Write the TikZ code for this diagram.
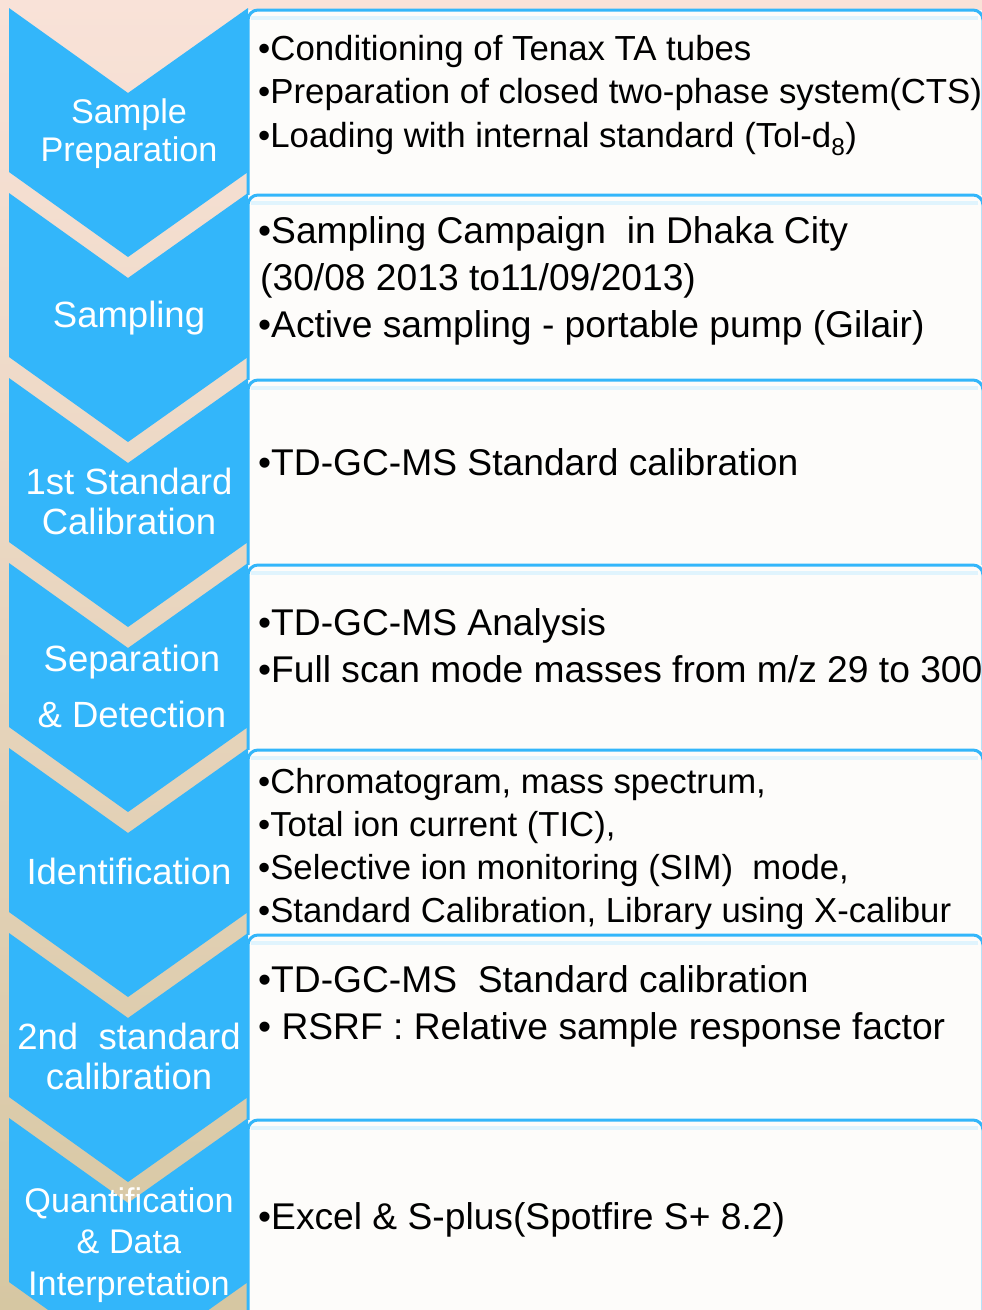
\documentclass[tikz,border=0pt]{standalone}
\usepackage{fontspec}
\setmainfont{Liberation Sans}

\definecolor{stepblue}{RGB}{51,182,250}
\definecolor{glowblue}{RGB}{224,244,253}
\definecolor{boxwhite}{RGB}{253,252,250}
\definecolor{peachtop}{RGB}{249,226,216}
\definecolor{peachmid}{RGB}{243,230,214}
\definecolor{tanbottom}{RGB}{214,199,162}

\begin{document}
\begin{tikzpicture}[x=1pt, y=-1pt,
    chevron/.style={fill=stepblue},
    steplabel/.style={text=white, align=center, inner sep=0pt},
    detail/.style={anchor=base west, inner sep=0pt, text=black},
    small/.style={font=\fontsize{34.8}{40}\selectfont},
    large/.style={font=\fontsize{37.2}{44}\selectfont}]

  \useasboundingbox (0,0) rectangle (982,1310);
  \clip (0,0) rectangle (982,1310);

  % background
  \shade[top color=peachtop, middle color=peachmid, bottom color=tanbottom]
    (0,0) rectangle (982,1310);

  % detail boxes
  \foreach \i in {0,...,6} {
    \pgfmathsetmacro\boxtop{10+185*\i}
    \fill[boxwhite] (248,\boxtop) rectangle (990,\boxtop+195);
    \draw[stepblue, line width=3pt, rounded corners=10pt]
      (248,\boxtop+195) -- (248,\boxtop) -- (983,\boxtop) -- (983,\boxtop+195);
    \draw[glowblue, line width=4pt] (251,\boxtop+8) -- (978,\boxtop+8);
  }

  % step chevrons
  \foreach \i in {0,...,6} {
    \pgfmathsetmacro\t{8+185*\i}
    \fill[chevron] (9,\t) -- (128,\t+85) -- (248,\t)
      -- (248,\t+164) -- (128,\t+249) -- (9,\t+164) -- cycle;
  }

  % step names
  \node[steplabel, font=\fontsize{34.2}{38}\selectfont] (prep) at (129,134)
    {Sample\\Preparation};
  \node[steplabel, font=\fontsize{36.5}{40}\selectfont] (sampling) at (129,318)
    {Sampling};
  \node[steplabel, font=\fontsize{36.5}{40}\selectfont] (calibfirst) at (129,501)
    {1st Standard\\Calibration};
  \node[steplabel, font=\fontsize{36.5}{56}\selectfont] (separation) at (132,686)
    {Separation\\\& Detection};
  \node[steplabel, font=\fontsize{36.5}{40}\selectfont] (ident) at (129,871)
    {Identification};
  \node[steplabel, font=\fontsize{36.5}{40}\selectfont] (calibsecond) at (129,1056)
    {2nd~ standard\\calibration};
  \node[steplabel, font=\fontsize{34.2}{41.5}\selectfont] (quant) at (129,1245)
    {Quantification\\\& Data\\Interpretation};

  % sample preparation
  \node[detail, small] (cond) at (258,60) {•Conditioning of Tenax TA tubes};
  \node[detail, small] (cts) at (258,103) {•Preparation of closed two-phase system(CTS)};
  \node[detail, small] (tol) at (258,147) {•Loading with internal standard (Tol-d\textsubscript{8})};

  % sampling
  \node[detail, large] (campaign) at (258,243) {•Sampling Campaign~ in Dhaka City};
  \node[detail, large] (dates) at (260,290) {(30/08 2013 to11/09/2013)};
  \node[detail, large] (pump) at (258,337) {•Active sampling - portable pump (Gilair)};

  % first calibration
  \node[detail, large] (tdcal) at (258,475) {•TD-GC-MS Standard calibration};

  % separation
  \node[detail, large] (analysis) at (258,635) {•TD-GC-MS Analysis};
  \node[detail, large] (fullscan) at (258,682) {•Full scan mode masses from m/z 29 to 300};

  % identification
  \node[detail, font=\fontsize{34.7}{40}\selectfont] (chrom) at (258,793)
    {•Chromatogram, mass spectrum,};
  \node[detail, font=\fontsize{34.7}{40}\selectfont] (tic) at (258,836)
    {•Total ion current (TIC),};
  \node[detail, font=\fontsize{34.7}{40}\selectfont] (sim) at (258,879)
    {•Selective ion monitoring (SIM)~ mode,};
  \node[detail, font=\fontsize{34.7}{40}\selectfont] (library) at (258,922)
    {•Standard Calibration, Library using X-calibur};

  % second calibration
  \node[detail, large] (tdcaltwo) at (258,992) {•TD-GC-MS~ Standard calibration};
  \node[detail, large] (rsrf) at (258,1039) {• RSRF : Relative sample response factor};

  % quantification
  \node[detail, large] (excel) at (258,1229) {•Excel \& S-plus(Spotfire S+ 8.2)};

\end{tikzpicture}
\end{document}
